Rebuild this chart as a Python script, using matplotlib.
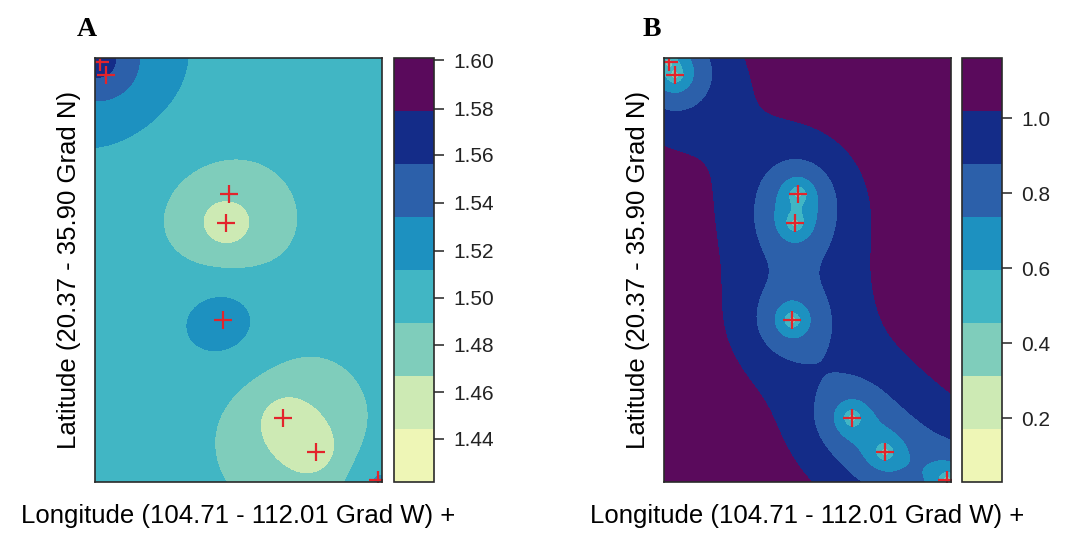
import numpy as np
import matplotlib
matplotlib.use("Agg")
import matplotlib.pyplot as plt

# station positions (deg)
lon = [104.83, 104.99, 108.12, 108.04, 107.97, 109.49, 110.33, 111.91]
lat = [35.74, 35.28, 30.91, 29.86, 26.30, 22.72, 21.47, 20.45]

# panel A: station values
val_a = [1.578, 1.556, 1.473, 1.442, 1.532, 1.447, 1.446, 1.515]

lon_range = [104.71, 112.01]
lat_range = [20.37, 35.90]

levels_a = [1.422, 1.444, 1.467, 1.489, 1.512, 1.534, 1.556, 1.579, 1.601]
levels_b = [0.030, 0.171, 0.313, 0.454, 0.595, 0.736, 0.878, 1.019, 1.160]
ticks_a = [1.44, 1.46, 1.48, 1.50, 1.52, 1.54, 1.56, 1.58, 1.60]
ticks_b = [0.2, 0.4, 0.6, 0.8, 1.0]

colors = ['#EEF6B6', '#CDEAB4', '#7FCDBB', '#41B6C4', '#1D91C0',
          '#2C60AA', '#142C88', '#5A0A5C']

# map size in pixels, used so the distances look round on screen
W_PX, H_PX = 287.0, 424.0


def to_px(lo, la):
    x = (np.asarray(lo) - lon_range[0]) / (lon_range[1] - lon_range[0]) * W_PX
    y = (np.asarray(la) - lat_range[0]) / (lat_range[1] - lat_range[0]) * H_PX
    return x, y


def cov(h, p1, a1, p2, a2):
    # two nested exponential structures
    return p1 * np.exp(-h / a1) + p2 * np.exp(-h / a2)


def ok_krige(xs, ys, vals, gx, gy, p1, a1, p2, a2):
    # ordinary kriging -> prediction and standard error
    n = len(xs)
    d = np.hypot(xs[:, None] - xs[None, :], ys[:, None] - ys[None, :])
    K = np.ones((n + 1, n + 1))
    K[:n, :n] = cov(d, p1, a1, p2, a2)
    K[n, n] = 0.0
    d0 = np.hypot(gx.ravel()[:, None] - xs[None, :], gy.ravel()[:, None] - ys[None, :])
    c0 = cov(d0, p1, a1, p2, a2)
    rhs = np.vstack([c0.T, np.ones(c0.shape[0])])
    sol = np.linalg.solve(K, rhs)
    w = sol[:n]
    pred = w.T @ np.asarray(vals)
    var = p1 + p2 - np.sum(w * c0.T, axis=0) - sol[n]
    se = np.sqrt(np.clip(var, 0, None))
    return pred.reshape(gx.shape), se.reshape(gx.shape)


glon = np.linspace(lon_range[0], lon_range[1], 300)
glat = np.linspace(lat_range[0], lat_range[1], 440)
GLON, GLAT = np.meshgrid(glon, glat)
gx, gy = to_px(GLON, GLAT)
sx, sy = to_px(lon, lat)

pred_a, _ = ok_krige(sx, sy, val_a, gx, gy, 0.0, 1.0, 1.0, 50.0)
_, se_b = ok_krige(sx, sy, val_a, gx, gy, 0.111, 4.0, 1.101, 90.0)

pred_a = np.clip(pred_a, levels_a[0] + 1e-4, levels_a[-1] - 1e-4)
se_b = np.clip(se_b, levels_b[0] + 1e-4, levels_b[-1] - 1e-4)

fig = plt.figure(figsize=(10.65, 5.35), dpi=100)
plt.rcParams['font.family'] = ['Liberation Sans', 'DejaVu Sans']

panels = [
    ('A', pred_a, levels_a, ticks_a, '%.2f', [95, 394, 87]),
    ('B', se_b, levels_b, ticks_b, '%.1f', [664, 962, 652]),
]

for name, field, levels, ticks, fmt, pos in panels:
    x_map, x_cb, x_lab = pos
    ax = fig.add_axes([x_map / 1065, 53 / 535, 287 / 1065, 424 / 535])
    cs = ax.contourf(GLON, GLAT, field, levels=levels, colors=colors)
    ax.plot(lon, lat, '+', color='#e3242b', markersize=13, markeredgewidth=1.6)
    ax.set_xlim(lon_range)
    ax.set_ylim(lat_range)
    ax.set_xticks([])
    ax.set_yticks([])
    for sp in ax.spines.values():
        sp.set_linewidth(1.2)
        sp.set_color('#2a2a2a')
    ax.set_xlabel('Longitude (104.71 - 112.01 Grad W) +', fontsize=18.5, labelpad=16)
    ax.set_ylabel('Latitude (20.37 - 35.90 Grad N)', fontsize=18.5, labelpad=10)

    cax = fig.add_axes([x_cb / 1065, 53 / 535, 40 / 1065, 424 / 535])
    cb = fig.colorbar(cs, cax=cax, ticks=ticks, format=fmt)
    cb.outline.set_linewidth(1.2)
    cb.outline.set_edgecolor('#2a2a2a')
    cax.tick_params(labelsize=15, length=7, width=1.1, pad=7, colors='#222222')

    fig.text(x_lab / 1065, 1 - 30 / 535, name, fontsize=20, fontweight='bold',
             family='Liberation Serif', ha='center', va='center')

fig.savefig('out.png', dpi=100)
